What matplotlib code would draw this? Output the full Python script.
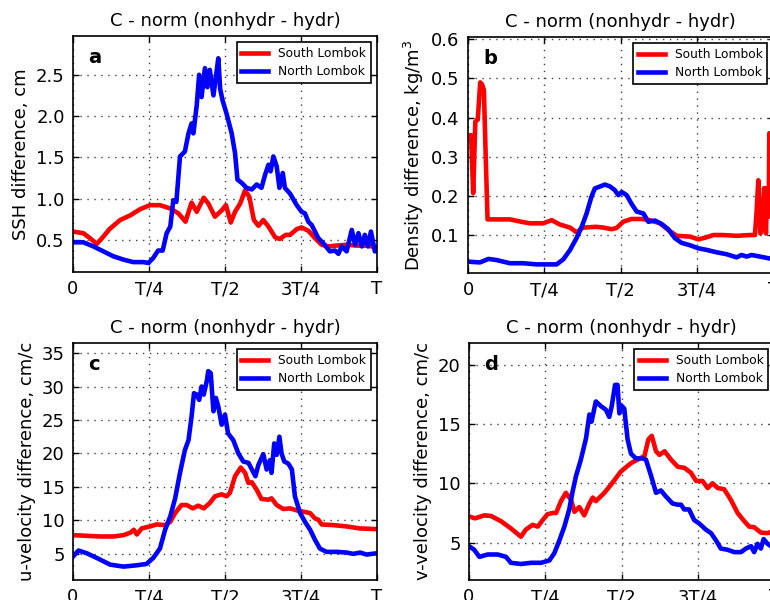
import matplotlib
matplotlib.use("Agg")
import matplotlib.pyplot as plt

# time in units of the tidal period T
ssh_t_south = [0, 0.034, 0.056, 0.078, 0.10, 0.12, 0.155, 0.19, 0.22, 0.253, 0.286, 0.32, 0.347, 0.37,
               0.39, 0.407, 0.43, 0.445, 0.467, 0.49, 0.503, 0.519, 0.533, 0.55, 0.566, 0.58, 0.595,
               0.61, 0.626, 0.643, 0.665, 0.68, 0.70, 0.714, 0.736, 0.752, 0.774, 0.796, 0.818, 0.84,
               0.867, 0.90, 0.933, 0.966, 1.0]
ssh_south = [0.60, 0.58, 0.52, 0.45, 0.54, 0.63, 0.74, 0.80, 0.87, 0.92, 0.92, 0.88, 0.82, 0.72,
             0.95, 0.84, 1.01, 0.94, 0.78, 0.86, 0.92, 0.71, 0.84, 0.94, 1.10, 1.02, 0.74,
             0.67, 0.74, 0.66, 0.53, 0.51, 0.56, 0.56, 0.63, 0.65, 0.61, 0.52, 0.44, 0.42,
             0.43, 0.44, 0.43, 0.43, 0.41]
ssh_t_north = [0, 0.034, 0.067, 0.10, 0.133, 0.166, 0.198, 0.231, 0.248, 0.264, 0.28, 0.295, 0.308,
               0.32, 0.33, 0.34, 0.352, 0.368, 0.38, 0.39, 0.396, 0.407, 0.415, 0.423, 0.434, 0.442,
               0.45, 0.462, 0.473, 0.478, 0.484, 0.492, 0.505, 0.522, 0.533, 0.541, 0.555, 0.571,
               0.588, 0.604, 0.62, 0.632, 0.643, 0.65, 0.659, 0.67, 0.679, 0.69, 0.697, 0.714,
               0.736, 0.752, 0.763, 0.774, 0.785, 0.796, 0.807, 0.823, 0.845, 0.862, 0.873, 0.884,
               0.90, 0.917, 0.928, 0.939, 0.95, 0.96, 0.97, 0.98, 0.993, 1.0]
ssh_north = [0.47, 0.47, 0.42, 0.36, 0.30, 0.26, 0.23, 0.23, 0.22, 0.28, 0.37, 0.37, 0.58,
             0.66, 0.98, 0.96, 1.51, 1.57, 1.79, 1.91, 1.79, 2.13, 2.50, 2.23, 2.58, 2.35,
             2.56, 2.25, 2.56, 2.70, 2.33, 2.19, 2.03, 1.79, 1.55, 1.23, 1.19, 1.13,
             1.11, 1.17, 1.13, 1.29, 1.41, 1.33, 1.51, 1.39, 1.13, 1.31, 1.13, 1.06,
             0.92, 0.84, 0.82, 0.72, 0.68, 0.60, 0.52, 0.46, 0.36, 0.37, 0.33, 0.42,
             0.36, 0.62, 0.44, 0.58, 0.42, 0.56, 0.42, 0.60, 0.36, 0.38]

rho_t_south = [0, 0.01, 0.017, 0.024, 0.032, 0.04, 0.046, 0.052, 0.058, 0.064, 0.094, 0.137, 0.18,
               0.203, 0.246, 0.274, 0.30, 0.334, 0.355, 0.377, 0.42, 0.443, 0.47, 0.486, 0.508,
               0.535, 0.568, 0.595, 0.628, 0.655, 0.683, 0.726, 0.754, 0.775, 0.803, 0.835, 0.879,
               0.922, 0.939, 0.944, 0.95, 0.957, 0.964, 0.969, 0.975, 0.979, 0.984, 0.986, 0.992, 1.0]
rho_south = [0.355, 0.355, 0.207, 0.39, 0.395, 0.49, 0.485, 0.47, 0.30, 0.14, 0.14, 0.14, 0.133,
             0.13, 0.13, 0.138, 0.127, 0.119, 0.107, 0.119, 0.121, 0.119, 0.115, 0.118, 0.134,
             0.141, 0.141, 0.138, 0.13, 0.113, 0.098, 0.096, 0.089, 0.093, 0.10, 0.10, 0.098,
             0.10, 0.10, 0.155, 0.24, 0.104, 0.13, 0.22, 0.104, 0.22, 0.147, 0.36, 0.36, 0.33]
rho_t_north = [0, 0.039, 0.067, 0.094, 0.137, 0.18, 0.225, 0.29, 0.312, 0.334, 0.355, 0.372, 0.388,
               0.404, 0.415, 0.432, 0.448, 0.465, 0.48, 0.492, 0.503, 0.519, 0.535, 0.552, 0.574,
               0.59, 0.612, 0.634, 0.655, 0.677, 0.699, 0.726, 0.754, 0.781, 0.813, 0.846, 0.879,
               0.895, 0.912, 0.928, 0.955, 0.988, 1.0]
rho_north = [0.032, 0.03, 0.039, 0.036, 0.028, 0.028, 0.025, 0.025, 0.038, 0.062, 0.092, 0.121, 0.155,
             0.198, 0.219, 0.224, 0.229, 0.224, 0.215, 0.202, 0.21, 0.202, 0.18, 0.16, 0.155,
             0.134, 0.137, 0.128, 0.115, 0.092, 0.08, 0.074, 0.066, 0.062, 0.056, 0.051, 0.043,
             0.049, 0.045, 0.049, 0.045, 0.04, 0.038]

u_t_south = [0, 0.045, 0.089, 0.133, 0.166, 0.19, 0.20, 0.21, 0.226, 0.253, 0.275, 0.303, 0.32,
             0.336, 0.357, 0.374, 0.394, 0.412, 0.43, 0.45, 0.467, 0.489, 0.505, 0.516, 0.533,
             0.552, 0.566, 0.577, 0.588, 0.604, 0.62, 0.643, 0.653, 0.67, 0.692, 0.714, 0.736,
             0.758, 0.78, 0.796, 0.807, 0.818, 0.856, 0.90, 0.944, 1.0]
u_south = [7.8, 7.7, 7.6, 7.6, 7.8, 8.2, 8.6, 7.9, 8.8, 9.1, 9.4, 9.3, 9.8,
           11.1, 12.3, 12.3, 11.8, 12.2, 11.8, 12.6, 13.6, 13.9, 13.6, 14.1, 16.6,
           17.9, 17.1, 15.6, 15.7, 14.6, 13.2, 13.1, 13.3, 12.3, 11.7, 11.8, 11.5,
           11.3, 11.1, 10.3, 10.1, 9.4, 9.3, 9.1, 8.8, 8.7]
u_t_north = [0, 0.018, 0.045, 0.078, 0.122, 0.166, 0.21, 0.242, 0.264, 0.286, 0.303, 0.32, 0.336,
             0.352, 0.368, 0.38, 0.39, 0.398, 0.407, 0.415, 0.423, 0.43, 0.44, 0.445, 0.453,
             0.462, 0.47, 0.478, 0.489, 0.5, 0.51, 0.527, 0.544, 0.56, 0.577, 0.6, 0.61,
             0.626, 0.637, 0.648, 0.653, 0.662, 0.67, 0.679, 0.686, 0.695, 0.708, 0.72, 0.73,
             0.747, 0.763, 0.78, 0.796, 0.812, 0.834, 0.867, 0.90, 0.922, 0.944, 0.966, 1.0]
u_north = [4.6, 5.5, 5.1, 4.4, 3.4, 3.1, 3.3, 3.5, 4.4, 5.8, 8.6, 10.6, 13.3,
           17.1, 20.5, 22.0, 25.5, 29.0, 28.8, 28.0, 30.0, 28.8, 30.8, 32.3, 32.0,
           26.3, 28.3, 27.0, 24.3, 25.8, 23.0, 22.0, 20.0, 18.8, 18.6, 16.6, 18.3,
           19.9, 17.6, 19.0, 17.1, 21.5, 19.8, 22.5, 20.0, 18.8, 18.5, 17.6, 13.6,
           11.1, 9.8, 8.6, 7.1, 5.8, 5.3, 5.3, 5.2, 5.0, 5.2, 4.9, 5.1]

v_t_south = [0, 0.02, 0.05, 0.072, 0.105, 0.137, 0.17, 0.186, 0.208, 0.225, 0.241, 0.257, 0.274,
             0.285, 0.301, 0.317, 0.334, 0.345, 0.361, 0.377, 0.394, 0.405, 0.415, 0.443, 0.465,
             0.497, 0.53, 0.552, 0.574, 0.587, 0.598, 0.612, 0.623, 0.64, 0.661, 0.683, 0.705,
             0.726, 0.743, 0.764, 0.781, 0.797, 0.814, 0.835, 0.857, 0.879, 0.901, 0.917, 0.933,
             0.955, 0.977, 1.0]
v_south = [7.2, 7.05, 7.3, 7.25, 6.8, 6.2, 5.5, 6.1, 6.5, 6.35, 6.9, 7.4, 7.5,
           7.5, 8.5, 9.2, 8.6, 7.6, 8.0, 7.3, 8.3, 8.8, 8.5, 9.2, 9.9,
           11.0, 11.7, 12.0, 12.3, 13.7, 14.0, 12.7, 12.4, 12.7, 12.0, 11.4, 11.3,
           10.9, 10.2, 10.2, 9.6, 10.0, 9.6, 9.5, 8.6, 7.5, 6.8, 6.35, 6.3,
           5.85, 5.8, 6.0]
v_t_north = [0, 0.017, 0.034, 0.061, 0.094, 0.121, 0.137, 0.17, 0.203, 0.236, 0.263, 0.279, 0.296,
             0.312, 0.328, 0.339, 0.35, 0.366, 0.383, 0.394, 0.401, 0.415, 0.432, 0.448, 0.459,
             0.467, 0.478, 0.486, 0.492, 0.497, 0.508, 0.519, 0.53, 0.546, 0.568, 0.579, 0.595,
             0.612, 0.628, 0.644, 0.666, 0.683, 0.694, 0.704, 0.72, 0.737, 0.754, 0.775, 0.792,
             0.808, 0.824, 0.846, 0.868, 0.89, 0.906, 0.923, 0.933, 0.944, 0.955, 0.964, 0.977,
             0.988, 1.0]
v_north = [4.7, 4.4, 3.8, 4.0, 4.0, 3.8, 3.3, 3.2, 3.3, 3.3, 3.5, 4.1, 5.2,
           6.35, 7.8, 9.3, 10.6, 12.0, 13.8, 15.8, 15.2, 16.9, 16.5, 16.2, 15.6,
           16.5, 18.3, 18.3, 15.9, 16.6, 16.3, 13.7, 12.5, 12.1, 12.1, 12.0, 10.7,
           9.2, 9.4, 8.9, 8.3, 8.2, 8.2, 7.8, 7.8, 6.9, 6.6, 6.1, 5.8,
           5.2, 4.5, 4.4, 4.2, 4.2, 4.5, 4.7, 4.2, 4.9, 4.5, 5.3, 4.9,
           4.7, 4.5]

tick_pos = [0, 0.25, 0.5, 0.75, 1.0]
tick_labels = ["0", "T/4", "T/2", "3T/4", "T"]

plt.rcParams["font.family"] = "DejaVu Sans"
plt.rcParams["font.size"] = 13

fig = plt.figure(figsize=(7.7, 6.0), dpi=100)

# [left, bottom, width, height] in figure fractions; right column runs off the edge
panels = [
    dict(rect=[73 / 770, 328 / 600, 304 / 770, 236 / 600], letter="a",
         ylabel="SSH difference, cm", ylim=(0.11, 2.97), yticks=[0.5, 1.0, 1.5, 2.0, 2.5],
         south=(ssh_t_south, ssh_south), north=(ssh_t_north, ssh_north)),
    dict(rect=[468 / 770, 327 / 600, 305.6 / 770, 236 / 600], letter="b",
         ylabel="Density difference, kg/m$^3$", ylim=(0.003, 0.606),
         yticks=[0.1, 0.2, 0.3, 0.4, 0.5, 0.6],
         south=(rho_t_south, rho_south), north=(rho_t_north, rho_north)),
    dict(rect=[73 / 770, 20 / 600, 304 / 770, 237 / 600], letter="c",
         ylabel="u-velocity difference, cm/c", ylim=(1.1, 36.5), yticks=[5, 10, 15, 20, 25, 30, 35],
         south=(u_t_south, u_south), north=(u_t_north, u_north)),
    dict(rect=[469 / 770, 20 / 600, 305.6 / 770, 237 / 600], letter="d",
         ylabel="v-velocity difference, cm/c", ylim=(1.85, 21.83), yticks=[5, 10, 15, 20],
         south=(v_t_south, v_south), north=(v_t_north, v_north)),
]

for p in panels:
    ax = fig.add_axes(p["rect"])
    ax.plot(*p["south"], color="red", lw=3.3, label="South Lombok")
    ax.plot(*p["north"], color="blue", lw=3.3, label="North Lombok")
    ax.set_xlim(0, 1)
    ax.set_ylim(*p["ylim"])
    ax.set_xticks(tick_pos)
    ax.set_xticklabels(tick_labels)
    ax.set_yticks(p["yticks"])
    ax.grid(True, color="0.25", ls=(0, (1, 4)), lw=1.0)
    ax.tick_params(direction="in", top=True, right=True, length=4, width=1, pad=6)
    for s in ax.spines.values():
        s.set_linewidth(1.2)
    ax.set_title("C - norm (nonhydr - hydr)", fontsize=13, pad=7)
    ax.set_ylabel(p["ylabel"], fontsize=13)
    ax.text(0.05, 0.885, p["letter"], transform=ax.transAxes, fontsize=14,
            fontweight="bold", va="baseline")
    leg = ax.legend(loc="upper right", fontsize=8.8, fancybox=False, framealpha=1,
                    edgecolor="k", handlelength=2.2, borderaxespad=0.5, labelspacing=0.4)
    leg.get_frame().set_linewidth(1.2)

fig.savefig("out.png", dpi=100)
